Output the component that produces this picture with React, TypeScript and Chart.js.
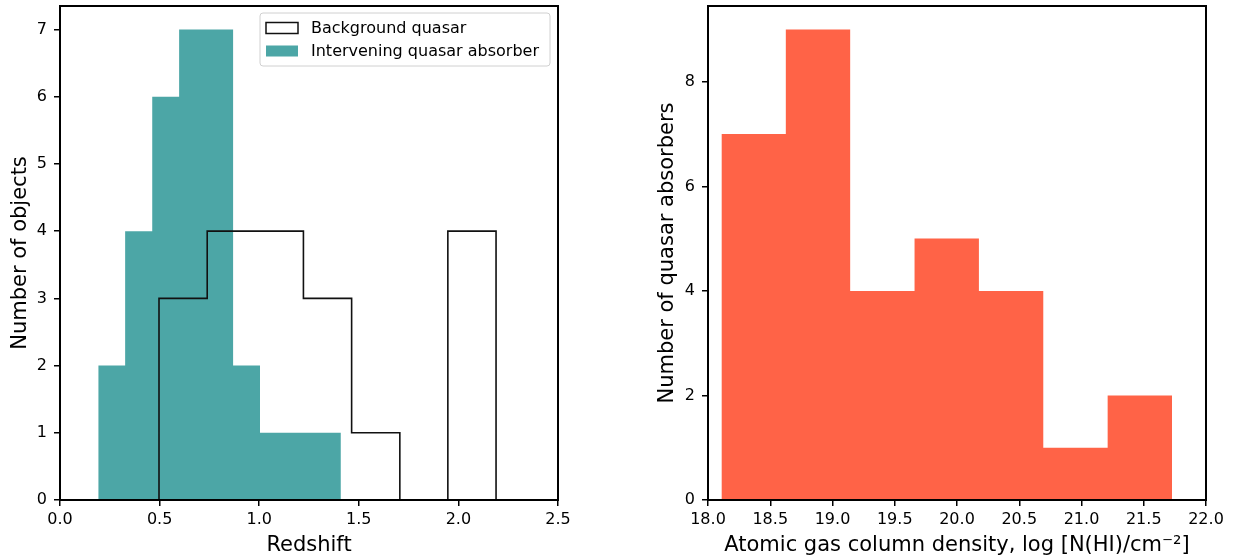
import React, { useEffect, useRef } from "react";
import { Chart, registerables } from "chart.js";

Chart.register(...registerables);

// ---------- data ----------
const bgQuasarEdges = [0.497, 0.739, 0.98, 1.222, 1.464, 1.706, 1.947, 2.189];
const bgQuasarCounts = [3, 4, 4, 3, 1, 0, 4];
const absorberEdges = [0.192, 0.327, 0.463, 0.598, 0.733, 0.869, 1.004, 1.139, 1.275, 1.41];
const absorberCounts = [2, 4, 6, 7, 7, 2, 1, 1, 1];
const nhiEdges = [18.108, 18.625, 19.142, 19.659, 20.176, 20.693, 21.21, 21.727];
const nhiCounts = [7, 9, 4, 5, 4, 1, 2];

const redshiftTicks = [0, 0.5, 1.0, 1.5, 2.0, 2.5];
const objectTicks = [0, 1, 2, 3, 4, 5, 6, 7];
const nhiTicks = [18.0, 18.5, 19.0, 19.5, 20.0, 20.5, 21.0, 21.5, 22.0];
const absorberTicks = [0, 2, 4, 6, 8];

const legendLabels = ["Background quasar", "Intervening quasar absorber"];

const FONT = "'DejaVu Sans', 'Liberation Sans', sans-serif";
const TEAL = "rgba(0,128,128,0.7)";
const TOMATO = "#ff6347";
const TICK_SIZE = 16;
const TITLE_SIZE = 21;

function stepPoints(edges: number[], counts: number[]) {
  const pts: { x: number; y: number }[] = [{ x: edges[0], y: 0 }];
  counts.forEach((c, i) => pts.push({ x: edges[i], y: c }));
  pts.push({ x: edges[edges.length - 1], y: 0 });
  return pts;
}

const framePlugin = {
  id: "frame",
  afterDraw(chart: any) {
    const { ctx, chartArea: a } = chart;
    ctx.save();
    ctx.strokeStyle = "#000";
    ctx.lineWidth = 2;
    ctx.strokeRect(a.left, a.top, a.right - a.left, a.bottom - a.top);
    ctx.restore();
  },
};

const legendPlugin = {
  id: "mplLegend",
  afterDraw(chart: any, _args: any, opts: any) {
    if (!opts || !opts.show) return;
    const { ctx, chartArea: a } = chart;
    const w = 290;
    const h = 53;
    const x0 = a.right - 8 - w;
    const y0 = a.top + 7;
    ctx.save();
    ctx.beginPath();
    const r = 3;
    ctx.moveTo(x0 + r, y0);
    ctx.lineTo(x0 + w - r, y0);
    ctx.quadraticCurveTo(x0 + w, y0, x0 + w, y0 + r);
    ctx.lineTo(x0 + w, y0 + h - r);
    ctx.quadraticCurveTo(x0 + w, y0 + h, x0 + w - r, y0 + h);
    ctx.lineTo(x0 + r, y0 + h);
    ctx.quadraticCurveTo(x0, y0 + h, x0, y0 + h - r);
    ctx.lineTo(x0, y0 + r);
    ctx.quadraticCurveTo(x0, y0, x0 + r, y0);
    ctx.closePath();
    ctx.fillStyle = "rgba(255,255,255,0.8)";
    ctx.fill();
    ctx.strokeStyle = "#d0d0d0";
    ctx.lineWidth = 1;
    ctx.stroke();

    ctx.font = `16px ${FONT}`;
    ctx.textBaseline = "middle";
    ctx.textAlign = "left";
    legendLabels.forEach((label, i) => {
      const cy = y0 + 15 + i * 23;
      const hx = x0 + 6;
      const hw = 32;
      const hh = 11;
      if (i === 0) {
        ctx.fillStyle = "#fff";
        ctx.fillRect(hx, cy - hh / 2, hw, hh);
        ctx.strokeStyle = "#111";
        ctx.lineWidth = 1.5;
        ctx.strokeRect(hx, cy - hh / 2, hw, hh);
      } else {
        ctx.fillStyle = TEAL;
        ctx.fillRect(hx, cy - hh / 2, hw, hh);
      }
      ctx.fillStyle = "#000";
      ctx.fillText(label, hx + hw + 13, cy + 1);
    });
    ctx.restore();
  },
};

function axisCommon(ticksArr: number[], decimals: number, min: number, max: number, title: string, isX: boolean, titlePad: number, size: number) {
  return {
    type: "linear",
    min,
    max,
    afterBuildTicks: (s: any) => {
      s.ticks = ticksArr.map((v) => ({ value: v }));
    },
    afterFit: (s: any) => {
      if (isX) s.height = size;
      else s.width = size;
      s.paddingTop = 0;
      s.paddingBottom = 0;
      s.paddingLeft = 0;
      s.paddingRight = 0;
    },
    ticks: {
      color: "#000",
      font: { family: FONT, size: TICK_SIZE },
      padding: isX ? 4 : 7,
      autoSkip: false,
      maxRotation: 0,
      callback: (v: any) => Number(v).toFixed(decimals),
    },
    grid: {
      display: true,
      drawOnChartArea: false,
      drawTicks: true,
      tickLength: 6,
      color: "#000",
      lineWidth: 1.5,
    },
    border: { display: false },
    title: {
      display: true,
      text: title,
      color: "#000",
      font: { family: FONT, size: TITLE_SIZE },
      padding: isX ? { top: 0, bottom: titlePad } : { top: titlePad, bottom: 0 },
    },
  };
}

export default function App() {
  const leftRef = useRef<HTMLCanvasElement>(null);
  const rightRef = useRef<HTMLCanvasElement>(null);

  useEffect(() => {
    const left = new Chart(leftRef.current as HTMLCanvasElement, {
      type: "line",
      data: {
        datasets: [
          {
            label: legendLabels[0],
            data: stepPoints(bgQuasarEdges, bgQuasarCounts),
            stepped: "before",
            borderColor: "#111",
            borderWidth: 1.6,
            backgroundColor: "#fff",
            fill: false,
            pointRadius: 0,
            tension: 0,
          },
          {
            label: legendLabels[1],
            data: stepPoints(absorberEdges, absorberCounts),
            stepped: "before",
            borderColor: "rgba(0,0,0,0)",
            borderWidth: 0,
            backgroundColor: TEAL,
            fill: "origin",
            pointRadius: 0,
            tension: 0,
          },
        ],
      } as any,
      options: {
        animation: false,
        responsive: false,
        devicePixelRatio: 1,
        layout: { padding: { top: 6, right: 62, left: 0, bottom: 0 } },
        plugins: {
          legend: { display: false },
          tooltip: { enabled: false },
          mplLegend: { show: true },
        } as any,
        scales: {
          x: axisCommon(redshiftTicks, 1, 0, 2.5, "Redshift", true, 2, 60),
          y: axisCommon(objectTicks, 0, 0, 7.35, "Number of objects", false, 8, 60),
        } as any,
      },
      plugins: [framePlugin, legendPlugin],
    });

    const right = new Chart(rightRef.current as HTMLCanvasElement, {
      type: "line",
      data: {
        datasets: [
          {
            label: "Quasar absorbers",
            data: stepPoints(nhiEdges, nhiCounts),
            stepped: "before",
            borderColor: "rgba(0,0,0,0)",
            borderWidth: 0,
            backgroundColor: TOMATO,
            fill: "origin",
            pointRadius: 0,
            tension: 0,
          },
        ],
      } as any,
      options: {
        animation: false,
        responsive: false,
        devicePixelRatio: 1,
        layout: { padding: { top: 6, right: 27, left: 0, bottom: 0 } },
        plugins: {
          legend: { display: false },
          tooltip: { enabled: false },
          mplLegend: { show: false },
        } as any,
        scales: {
          x: axisCommon(nhiTicks, 1, 18, 22, "Atomic gas column density, log [N(HI)/cm\u207B\u00B2]", true, 2, 60),
          y: axisCommon(absorberTicks, 0, 0, 9.45, "Number of quasar absorbers", false, 35, 88),
        } as any,
      },
      plugins: [framePlugin, legendPlugin],
    });

    return () => {
      left.destroy();
      right.destroy();
    };
  }, []);

  return (
    <div style={{ position: "absolute", left: 0, top: 0, width: 1233, height: 560, background: "#fff" }}>
      <div style={{ position: "absolute", left: 0, top: 0, width: 620, height: 560 }}>
        <canvas ref={leftRef} width={620} height={560} style={{ display: "block" }} />
      </div>
      <div style={{ position: "absolute", left: 620, top: 0, width: 613, height: 560 }}>
        <canvas ref={rightRef} width={613} height={560} style={{ display: "block" }} />
      </div>
    </div>
  );
}
